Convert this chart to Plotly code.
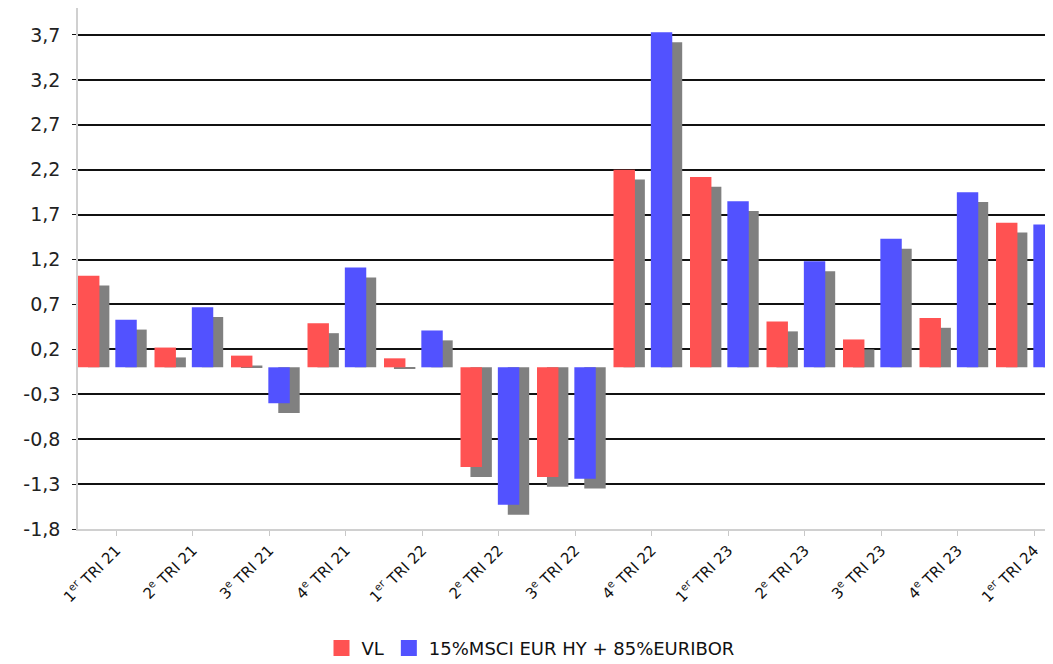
import plotly.graph_objects as go

# quarters (x axis)
quarters = ["1<sup>er</sup> TRI 21", "2<sup>e</sup> TRI 21", "3<sup>e</sup> TRI 21", "4<sup>e</sup> TRI 21",
            "1<sup>er</sup> TRI 22", "2<sup>e</sup> TRI 22", "3<sup>e</sup> TRI 22", "4<sup>e</sup> TRI 22",
            "1<sup>er</sup> TRI 23", "2<sup>e</sup> TRI 23", "3<sup>e</sup> TRI 23", "4<sup>e</sup> TRI 23",
            "1<sup>er</sup> TRI 24"]

# quarterly performance, %
vl = [1.02, 0.22, 0.13, 0.49, 0.10, -1.11, -1.22, 2.20, 2.12, 0.51, 0.31, 0.55, 1.61]
bench = [0.53, 0.67, -0.40, 1.11, 0.41, -1.53, -1.24, 3.73, 1.85, 1.18, 1.43, 1.95, 1.59]

y_ticks = [-1.8, -1.3, -0.8, -0.3, 0.2, 0.7, 1.2, 1.7, 2.2, 2.7, 3.2, 3.7]
y_labels = ["-1,8", "-1,3", "-0,8", "-0,3", "0,2", "0,7", "1,2", "1,7", "2,2", "2,7", "3,2", "3,7"]

RED = "#ff5252"
BLUE = "#5252ff"
GREY = "#808080"

bw = 0.28      # bar width (category units)
sh = 0.13      # shadow shift right
drop = 0.11    # shadow drop

fig = go.Figure()

# drop shadows first
for vals, off in [(vl, -0.5), (bench, -0.012)]:
    fig.add_trace(go.Bar(x=quarters, y=[v - drop for v in vals], width=bw, offset=off + sh,
                         marker=dict(color=GREY, line=dict(width=0)),
                         showlegend=False, hoverinfo="skip"))

fig.add_trace(go.Bar(x=quarters, y=vl, name="VL", width=bw, offset=-0.5,
                     marker=dict(color=RED, line=dict(width=0)), showlegend=False))
fig.add_trace(go.Bar(x=quarters, y=bench, name="15%MSCI EUR HY + 85%EURIBOR", width=bw, offset=-0.012,
                     marker=dict(color=BLUE, line=dict(width=0)), showlegend=False))

# legend entries with bigger square keys
for name, col in [("VL", RED), ("15%MSCI EUR HY + 85%EURIBOR", BLUE)]:
    fig.add_trace(go.Scatter(x=[None], y=[None], mode="markers", name=name,
                             marker=dict(symbol="square", size=16, color=col)))

# page body adds 8px margin, so the figure is 8px smaller
fig.update_layout(
    width=1045, height=656,
    barmode="overlay",
    plot_bgcolor="white", paper_bgcolor="white",
    margin=dict(l=70, r=0, t=0, b=135),
    font=dict(family="DejaVu Sans", color="#222222"),
    xaxis=dict(type="category", range=[-0.5, 12.245], tickangle=-45, automargin=False,
               tickfont=dict(size=15, color="#111111"),
               showline=True, linecolor="#d0d0d0", linewidth=1.5,
               ticks="outside", ticklen=5, tickcolor="#c8c8c8",
               showgrid=False),
    yaxis=dict(range=[-1.8, 4.0], tickvals=y_ticks, ticktext=y_labels, automargin=False,
               tickfont=dict(size=19, color="#222222"),
               showgrid=True, gridcolor="#111111", gridwidth=2,
               showline=True, linecolor="#d0d0d0", linewidth=1.5,
               ticks="outside", ticklen=4, tickcolor="#111111",
               ticklabelstandoff=8, zeroline=False),
    legend=dict(orientation="h", xref="container", x=0.5, xanchor="center",
                yref="container", y=0.024, yanchor="middle", itemsizing="trace",
                font=dict(size=18, color="#111111")),
)

fig.write_html("out.html")
